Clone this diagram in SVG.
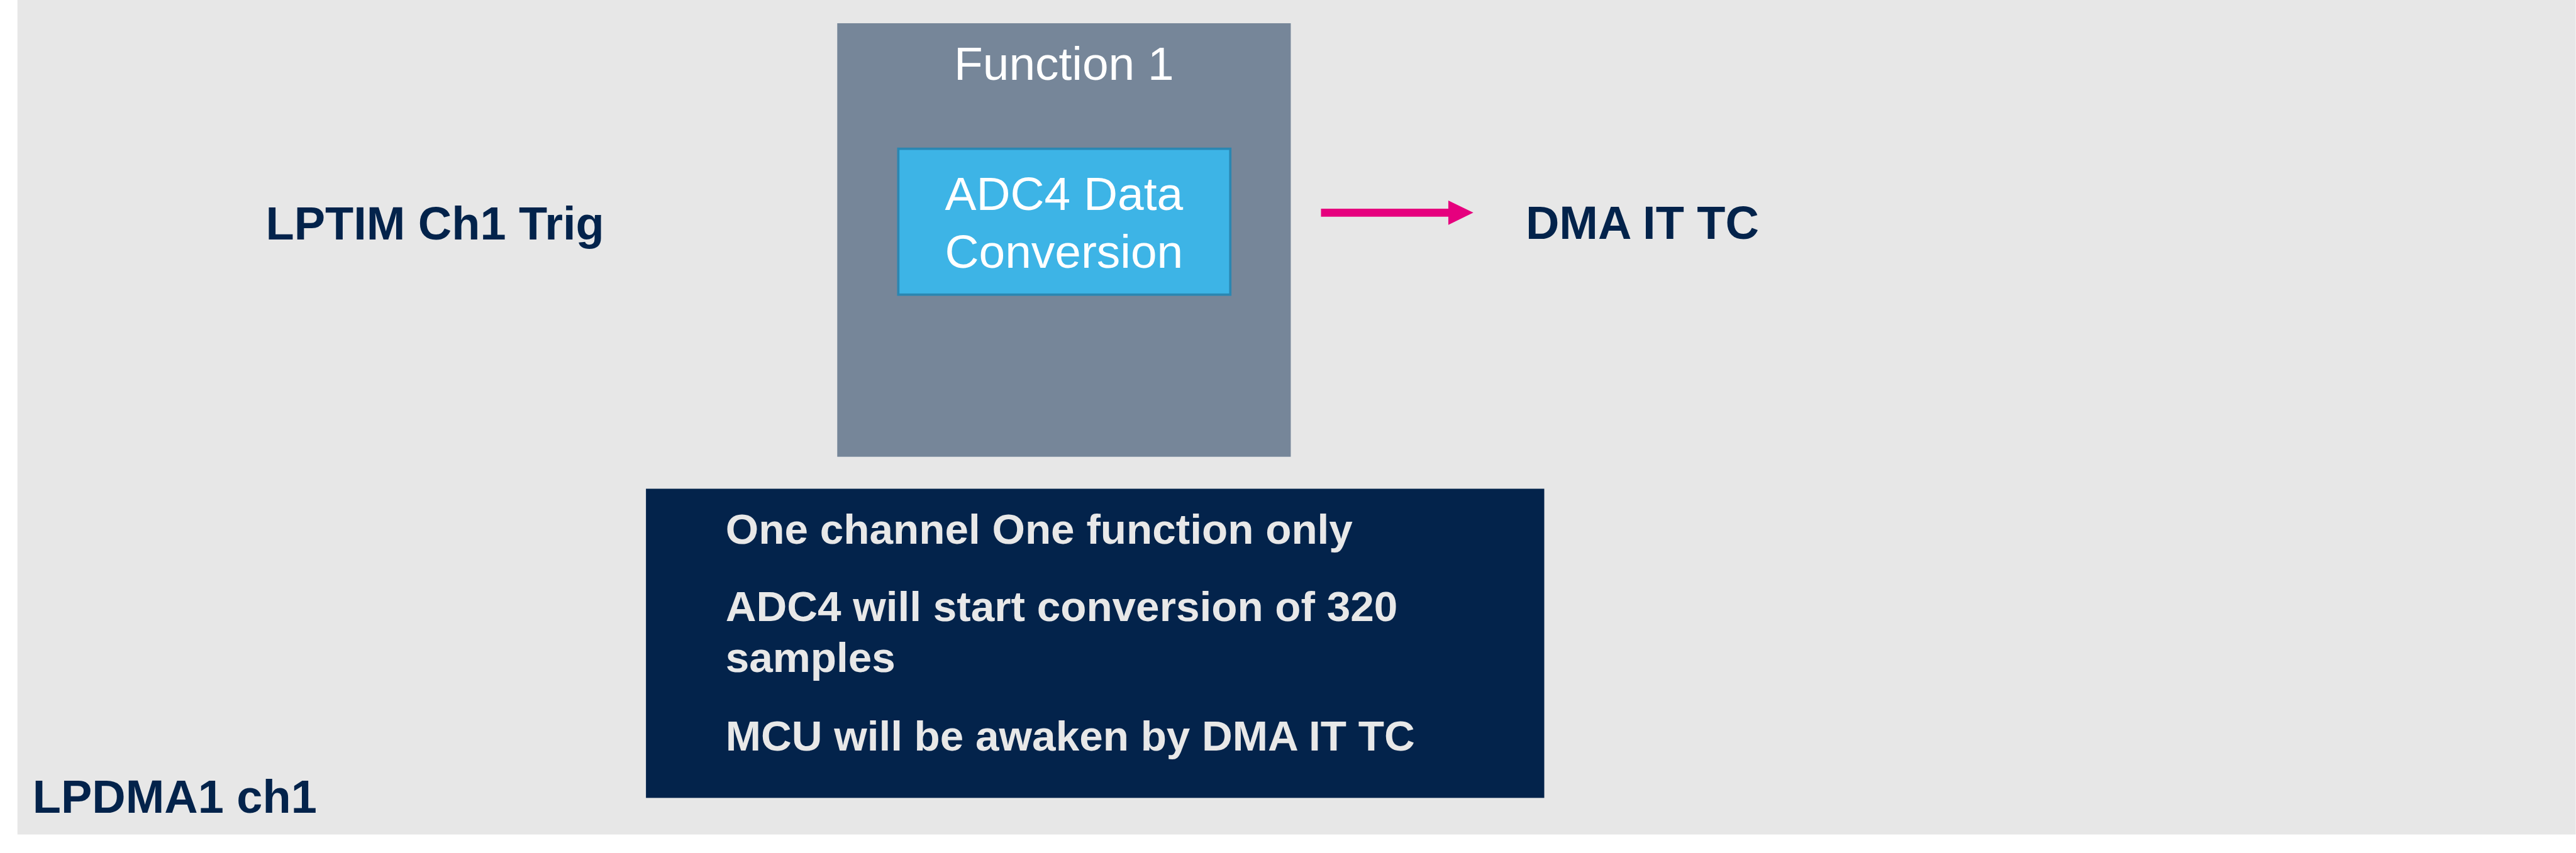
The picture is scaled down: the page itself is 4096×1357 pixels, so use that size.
<svg xmlns="http://www.w3.org/2000/svg" width="4096" height="1357" viewBox="0 0 4096 1357">
<style>
.lbl{font-family:"Liberation Sans",Arial,sans-serif;font-weight:bold;font-size:80px;fill:#03234B}
.wt{font-family:"Liberation Sans",Arial,sans-serif;font-size:81px;fill:#FFFFFF;text-anchor:middle}
.note{font-family:"Liberation Sans",Arial,sans-serif;font-weight:bold;font-size:73px;fill:#E8E8E8}
</style>
<rect x="0" y="0" width="4096" height="1357" fill="#FFFFFF"/>
<g transform="scale(0.9245)">
<rect id="background" x="30" y="0" width="4400" height="1436" fill="#E7E7E7"/>
<g id="function1">
<rect x="1440" y="40" width="780" height="746" fill="#768699"/>
<text class="wt" x="1830" y="137">Function 1</text>
</g>
<g id="adc4">
<rect x="1545" y="256" width="571" height="251" fill="#3DB4E6" stroke="#2A87B2" stroke-width="4"/>
<text class="wt" x="1830" y="361">ADC4 Data</text>
<text class="wt" x="1830" y="461">Conversion</text>
</g>
<g id="lptim">
<text class="lbl" x="457" y="412">LPTIM Ch1 Trig</text>
</g>
<g id="dma-it-tc">
<text class="lbl" x="2624" y="411">DMA IT TC</text>
</g>
<g id="notes">
<rect x="1111" y="841" width="1545" height="532" fill="#03234B"/>
<text class="note" x="1248" y="936">One channel One function only</text>
<text class="note" x="1248" y="1069">ADC4 will start conversion of 320</text>
<text class="note" x="1248" y="1156">samples</text>
<text class="note" x="1248" y="1291">MCU will be awaken by DMA IT TC</text>
</g>
<g id="lpdma">
<text class="lbl" x="56" y="1399">LPDMA1 ch1</text>
</g>
<g id="connectors">
<line x1="2272" y1="366" x2="2493" y2="366" stroke="#E6007E" stroke-width="14"/>
<polygon points="2491,345 2534,366 2491,387" fill="#E6007E"/>
</g>
</g>
</svg>
